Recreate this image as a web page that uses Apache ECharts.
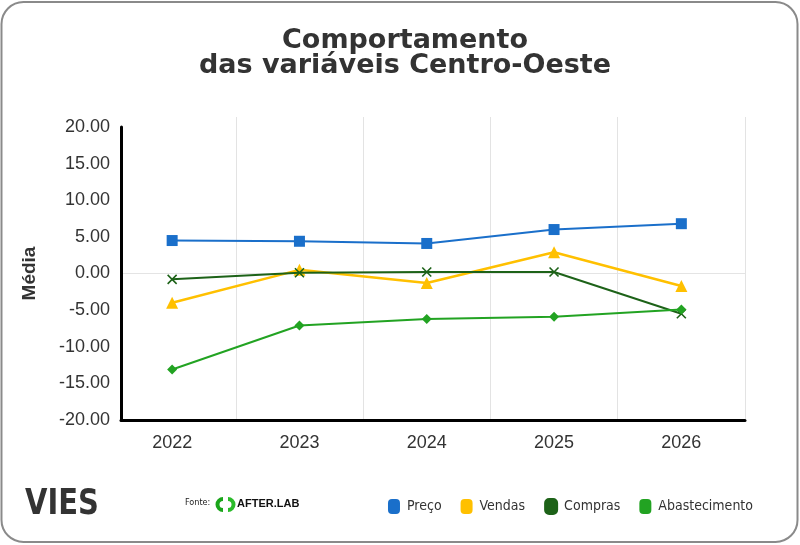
<!DOCTYPE html>
<html><head><meta charset="utf-8">
<script src="https://cdn.jsdelivr.net/npm/echarts@6/dist/echarts.min.js"></script>
<style>html,body{margin:0;padding:0;background:#fff}#c{width:800px;height:545px}</style>
</head><body><div id="c"></div>
<script>
// ---- data ----
const categories = ['2022', '2023', '2024', '2025', '2026'];
const preco = [4.5, 4.4, 4.1, 6.0, 6.8];
const vendas = [-4.0, 0.5, -1.3, 2.9, -1.7];
const compras = [-0.8, 0.1, 0.2, 0.2, -5.5];
const abastecimento = [-13.1, -7.1, -6.2, -5.9, -4.9];
const seriesNames = ['Preço', 'Vendas', 'Compras', 'Abastecimento'];
const yMin = -20, yMax = 20, yStep = 5;

// ---- styles ----
const colors = ['#1a6fca', '#ffc000', '#1d6218', '#22a322'];
const legendIcon = 'path://M4,0H8A4,4 0 0 1 12,4V11A4,4 0 0 1 8,15H4A4,4 0 0 1 0,11V4A4,4 0 0 1 4,0Z';
const crossIcon = 'path://M0,0L10,10M10,0L0,10';

const chart = echarts.init(document.getElementById('c'), null, {renderer: 'canvas'});

const gridTop0 = 117, gridTop1 = 127, gridBottomPx = 420;
const pxPerUnit = (gridBottomPx - gridTop1) / (yMax - yMin);
const yMax0 = yMin + (gridBottomPx - gridTop0) / pxPerUnit;

const zeroIndex = (0 - yMin) / yStep;
const nLines = (yMax - yMin) / yStep + 1;
const splitColors = [];
for (let i = 0; i < nLines; i++) splitColors.push(i === zeroIndex ? '#e4e4e4' : 'rgba(0,0,0,0)');

const dataSets = [preco, vendas, compras, abastecimento];
const symbols = ['rect', 'triangle', crossIcon, 'diamond'];
const symbolSizes = [11, 12, 9, 10];
const widths = [2, 2.5, 2, 2];

const series = seriesNames.map((name, i) => ({
  name: name,
  type: 'line',
  xAxisIndex: 0,
  yAxisIndex: 0,
  data: dataSets[i],
  symbol: symbols[i],
  symbolSize: symbolSizes[i],
  showAllSymbol: true,
  lineStyle: {color: colors[i], width: widths[i]},
  itemStyle: {color: colors[i], borderColor: colors[i], borderWidth: i === 2 ? 1.6 : 0},
  z: 3 + i
}));

const option = {
  animation: false,
  backgroundColor: '#ffffff',
  color: colors,
  title: {
    text: 'Comportamento\ndas variáveis Centro-Oeste',
    left: 400,
    top: 23,
    textAlign: 'center',
    textStyle: {fontFamily: '"DejaVu Sans", sans-serif', fontWeight: 'bold', fontSize: 27, color: '#333333', lineHeight: 25}
  },
  legend: {
    data: seriesNames,
    right: 42,
    top: 493,
    icon: legendIcon,
    itemWidth: 12,
    itemHeight: 15,
    itemGap: 19,
    textStyle: {fontFamily: '"DejaVu Sans Condensed", sans-serif', fontSize: 14, color: '#333333', padding: [0, 0, 0, 2]}
  },
  grid: [
    {left: 108.5, right: 55, top: gridTop0, bottom: 545 - gridBottomPx},
    {left: 121, right: 55, top: gridTop1, bottom: 545 - gridBottomPx}
  ],
  xAxis: [
    {
      gridIndex: 0, type: 'category', data: categories, boundaryGap: true,
      axisLine: {show: false}, axisTick: {show: false},
      axisLabel: {color: '#333333', fontSize: 18, margin: 14, fontFamily: '"Liberation Sans", Arial, sans-serif'},
      splitLine: {show: true, interval: function (i) { return i !== 0; }, lineStyle: {color: '#e3e3e3', width: 1}}
    },
    {
      gridIndex: 1, type: 'value', min: 0, max: 1,
      axisLine: {show: true, onZero: false, lineStyle: {color: '#000000', width: 3}},
      axisTick: {show: false}, axisLabel: {show: false}, splitLine: {show: false}
    }
  ],
  yAxis: [
    {gridIndex: 0, type: 'value', min: yMin, max: yMax0, show: false, splitLine: {show: false}},
    {
      gridIndex: 1, type: 'value', min: yMin, max: yMax, interval: yStep,
      name: 'Média', nameLocation: 'middle', nameGap: 82,
      nameTextStyle: {fontFamily: '"Liberation Sans", Arial, sans-serif', fontWeight: 'bold', fontSize: 19, color: '#333333'},
      axisLine: {show: true, onZero: false, lineStyle: {color: '#000000', width: 3}},
      axisTick: {show: false},
      axisLabel: {color: '#333333', fontSize: 18, margin: 11, fontFamily: '"Liberation Sans", Arial, sans-serif',
        formatter: function (v) { return v.toFixed(2); }},
      splitLine: {show: true, lineStyle: {color: splitColors, width: 1}}
    }
  ],
  series: series,
  graphic: [
    {type: 'rect', shape: {x: 1.5, y: 2, width: 796, height: 540, r: 22}, style: {fill: 'none', stroke: '#8a8a8a', lineWidth: 2}, silent: true, z: -1},
    {type: 'text', left: 25, top: 487, style: {text: 'VIES', font: 'bold 35px "DejaVu Sans Condensed", sans-serif', fill: '#333333'}, scaleX: 0.92},
    {type: 'text', left: 185, top: 498, style: {text: 'Fonte:', font: '9px "DejaVu Sans Condensed", sans-serif', fill: '#222222'}},
    {type: 'sector', shape: {cx: 223, cy: 504.5, r: 7.5, r0: 3.5, startAngle: Math.PI / 2, endAngle: Math.PI * 1.5}, style: {fill: '#1aa51a'}},
    {type: 'sector', shape: {cx: 228, cy: 504.5, r: 7.5, r0: 3.5, startAngle: -Math.PI / 2, endAngle: Math.PI / 2}, style: {fill: '#2bbb2b'}},
    {type: 'text', left: 237, top: 498, style: {text: 'AFTER.LAB', font: 'bold 11px "Liberation Sans", Arial, sans-serif', fill: '#111111'}}
  ]
};
chart.setOption(option);
</script>
</body></html>
